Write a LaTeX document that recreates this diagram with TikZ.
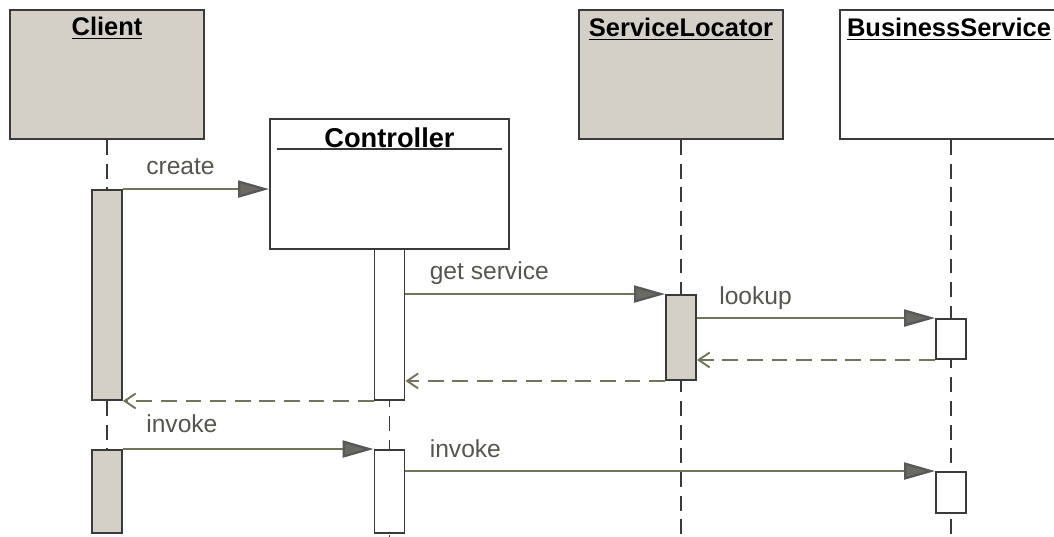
\documentclass[tikz,border=0pt]{standalone}
\usepackage{fontspec}
\setmainfont{Liberation Sans}
\usetikzlibrary{arrows.meta, calc}
\definecolor{boxgray}{HTML}{D4D0C8}
\definecolor{msgline}{HTML}{74745C}
\definecolor{tipgray}{HTML}{6A6A62}
\definecolor{edgec}{HTML}{3A3A3A}
\definecolor{lblc}{HTML}{56564E}

\tikzset{
  obj/.style={draw=edgec, line width=1.1pt, minimum height=2.58cm, inner sep=0pt},
  act/.style={draw=edgec, line width=1.1pt, minimum width=0.6cm, inner sep=0pt, fill=white},
  life/.style={draw=edgec, line width=1pt, dash pattern=on 8.5pt off 5pt},
  msg/.style={draw=msgline, line width=1.3pt,
    -{Triangle[length=0.62cm, width=0.34cm, fill=tipgray, color=edgec!85]}},
  ret/.style={draw=msgline, line width=1.1pt, dash pattern=on 9pt off 5pt,
    -{Straight Barb[length=0.22cm, width=0.3cm]}},
  objtitle/.style={font=\bfseries\fontsize{14.5}{17}\selectfont, inner sep=0pt, anchor=north},
  msglbl/.style={font=\fontsize{14}{16}\selectfont, text=lblc, inner sep=0pt, anchor=base west}
}

\begin{document}
\begin{tikzpicture}[x=0.02cm, y=-0.02cm]
      \useasboundingbox (0,0) rectangle (1054,537);
      \coordinate (bottom) at (0,545);

      % object heads
      \node[obj, fill=boxgray, minimum width=3.88cm] (client) at (107,74.5) {};
      \node[obj, fill=white, minimum width=4.78cm, minimum height=2.6cm] (ctrl) at (389.5,184) {};
      \node[obj, fill=boxgray, minimum width=4.08cm] (locator) at (681,74.5) {};
      \node[obj, fill=white, minimum width=4.44cm] (business) at (951,74.5) {};

      \node[objtitle] (clientT) at (107,17) {\underline{Client}};
      \node[objtitle, font=\bfseries\fontsize{15.5}{18}\selectfont] (ctrlT) at (389.5,127) {Controller};
      \draw[edgec, line width=1.6pt] ($(ctrl.north west)+(8,31)$) -- ($(ctrl.north east)+(-8,31)$);
      \node[objtitle] (locatorT) at (681,18) {\underline{ServiceLocator}};
      \node[objtitle] (businessT) at (949,18) {\underline{BusinessService}};

      % lifelines
      \draw[life] (client.south) -- (client.south |- bottom);
      \draw[life] (ctrl.south) -- (ctrl.south |- bottom);
      \draw[life] (locator.south) -- (locator.south |- bottom);
      \draw[life] (business.south) -- (business.south |- bottom);

      % activations
      \node[act, fill=boxgray, minimum height=4.2cm] (clientA) at (107,295) {};
      \node[act, fill=boxgray, minimum height=1.66cm] (clientB) at (107,491.5) {};
      \node[act, minimum height=3.02cm] (ctrlA) at (389.5,324.5) {};
      \node[act, minimum height=1.66cm] (ctrlB) at (389.5,491.5) {};
      \node[act, fill=boxgray, minimum height=1.7cm] (locA) at (681,337.5) {};
      \node[act, minimum height=0.8cm] (busA) at (951,339) {};
      \node[act, minimum height=0.82cm] (busB) at (951,492.5) {};

      % messages
      \draw[msg] (clientA.north east) -- (clientA.north east -| ctrl.west);
      \node[msglbl] (createL) at ($(clientA.north east)+(23,-15)$) {create};

      \draw[msg] (ctrlA.east |- locA.north) -- (locA.north west);
      \node[msglbl] (getL) at ($(ctrlA.east |- locA.north)+(24,-15)$) {get service};

      \draw[msg] (locA.east |- busA.north) -- (busA.north west);
      \node[msglbl] (lookupL) at ($(locA.east |- busA.north)+(22,-14)$) {lookup};

      \draw[ret] (busA.south west) -- (busA.south west -| locA.east);
      \draw[ret] (locA.south west) -- (locA.south west -| ctrlA.east);
      \draw[ret] (ctrlA.south west) -- (ctrlA.south west -| clientA.east);

      \draw[msg] (clientB.north east) -- (clientB.north east -| ctrlB.west);
      \node[msglbl] (invokeL) at ($(clientB.north east)+(23,-17)$) {invoke};

      \draw[msg] (ctrlB.east |- busB.north) -- (busB.north west);
      \node[msglbl] (invokeM) at ($(ctrlB.east |- busB.north)+(24,-14)$) {invoke};
    \end{tikzpicture}
\end{document}
